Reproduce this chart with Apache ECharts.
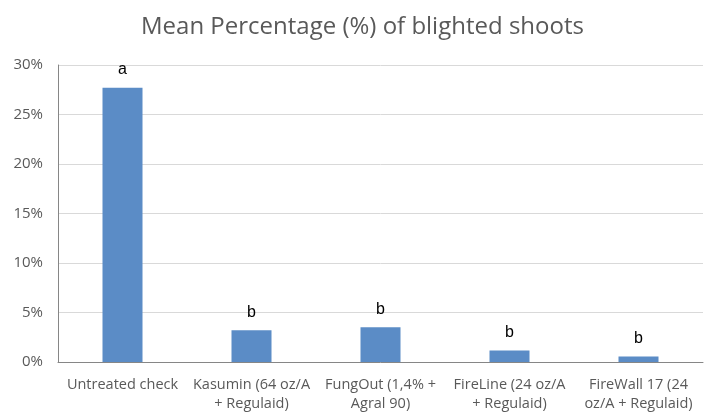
<!DOCTYPE html>
<html>
<head>
<meta charset="utf-8">
<script src="https://cdn.jsdelivr.net/npm/echarts@6/dist/echarts.min.js"></script>
<style>
  html, body { margin: 0; padding: 0; background: #fff; }
  #chart { width: 713px; height: 414px; }
</style>
</head>
<body>
<div id="chart"></div>
<script>
const treatments = [
  'Untreated check',
  'Kasumin (64 oz/A\n+ Regulaid)',
  'FungOut (1,4% +\nAgral 90)',
  'FireLine (24 oz/A\n+ Regulaid)',
  'FireWall 17 (24\noz/A + Regulaid)'
]
const meanBlighted = [27.7, 3.2, 3.5, 1.15, 0.55]
const letters = ['a', 'b', 'b', 'b', 'b']

const chart = echarts.init(document.getElementById('chart'))
chart.setOption({
  animation: false,
  textStyle: { fontFamily: 'Open Sans' },
  title: {
    text: 'Mean Percentage (%) of blighted shoots',
    left: 136,
    top: 10,
    textStyle: { color: '#595959', fontSize: 24, fontWeight: 'normal' }
  },
  grid: { left: 58, right: 10, top: 65, bottom: 52 },
  xAxis: {
    type: 'category',
    data: treatments,
    axisLine: { lineStyle: { color: '#868686' } },
    axisTick: { show: false },
    axisLabel: { color: '#595959', fontSize: 14.5, lineHeight: 19, margin: 13, interval: 0 }
  },
  yAxis: {
    type: 'value',
    min: 0,
    max: 30,
    interval: 5,
    axisLine: { show: true, lineStyle: { color: '#868686' } },
    splitLine: { lineStyle: { color: '#d9d9d9' } },
    axisLabel: { color: '#595959', fontSize: 15, margin: 15, formatter: '{value}%' }
  },
  series: [{
    type: 'bar',
    data: meanBlighted,
    barWidth: 40,
    itemStyle: { color: '#5b8cc6' },
    label: {
      show: true,
      position: 'top',
      distance: 10,
      color: '#000',
      fontSize: 16,
      fontFamily: 'Liberation Sans',
      formatter: p => letters[p.dataIndex]
    }
  }]
})
</script>
</body>
</html>
